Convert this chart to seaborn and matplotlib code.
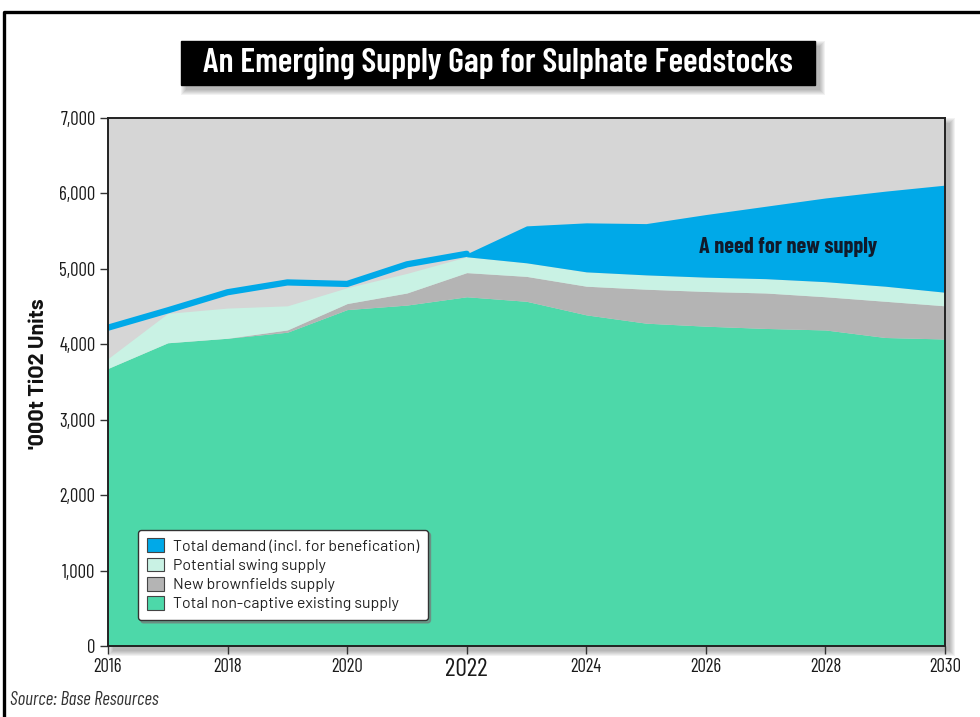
import matplotlib
matplotlib.use("Agg")
import matplotlib.pyplot as plt
import matplotlib.patches as mpatches
import matplotlib.lines as mlines
import seaborn as sns
import pandas as pd

# values ('000t TiO2 units)
years = list(range(2016, 2031))
existing = [3680, 4020, 4080, 4160, 4460, 4520, 4630, 4570, 4390, 4280, 4240, 4210, 4190, 4090, 4070]
brownfields = [0, 0, 0, 30, 80, 160, 320, 330, 380, 450, 460, 470, 440, 480, 440]
swing = [130, 390, 400, 320, 210, 260, 210, 180, 190, 190, 190, 190, 200, 200, 180]
demand = [4220, 4450, 4690, 4820, 4800, 5060, 5200, 5570, 5610, 5600, 5720, 5830, 5940, 6030, 6110]

labels = ["Total demand (incl. for benefication)", "Potential swing supply",
          "New brownfields supply", "Total non-captive existing supply"]
colors = ["#00a9e8", "#c9f2e4", "#b4b4b4", "#4dd8a9"]
xticks = [2016, 2018, 2020, 2022, 2024, 2026, 2028, 2030]
yticks = [0, 1000, 2000, 3000, 4000, 5000, 6000, 7000]

sns.set_theme(style="white")
cond = ["Barlow Condensed", "DejaVu Sans"]
plain = ["Barlow", "DejaVu Sans"]
plt.rcParams["font.family"] = cond

df = pd.DataFrame({"year": years, "existing": existing, "brownfields": brownfields,
                   "swing": swing, "demand": demand})
df["supply"] = df.existing + df.brownfields + df.swing

W, H = 980, 717
fig = plt.figure(figsize=(W / 100, H / 100), dpi=100)


def px_rect(x0, y0, x1, y1):
    # pixel box (top-left origin) -> figure fraction
    return [x0 / W, 1 - y1 / H, (x1 - x0) / W, (y1 - y0) / H]


def shadow(x0, y0, x1, y1, off=5, n=6):
    for i in range(n):
        l, b, w, h = px_rect(x0 + off - i, y0 + off - i, x1 + off + i, y1 + off + i)
        fig.patches.append(mpatches.Rectangle((l, b), w, h, transform=fig.transFigure,
                                              color="black", alpha=0.05, lw=0, zorder=-2))


# outer frame (left + top)
fig.lines.append(mlines.Line2D([4 / W, 4 / W, 1], [0, 1 - 12 / H, 1 - 12 / H],
                               transform=fig.transFigure, color="black", lw=2.4))

# title box
shadow(181, 41, 815, 85, off=5)
l, b, w, h = px_rect(181, 41, 815, 85)
fig.patches.append(mpatches.Rectangle((l, b), w, h, transform=fig.transFigure,
                                      color="black", zorder=-1))
fig.text(498 / W, 1 - 63 / H, "An Emerging Supply Gap for Sulphate Feedstocks",
         color="white", fontsize=24.5, fontweight="semibold", ha="center", va="center")

# axes
shadow(108, 118, 945, 646, off=5)
ax = fig.add_axes(px_rect(108, 118, 945, 646))
ax.set_facecolor("#d6d6d6")

ax.stackplot(df.year, df.existing, df.brownfields, df.swing,
             colors=[colors[3], colors[2], colors[1]], lw=0)
fc = df[df.year >= 2022]
ax.fill_between(fc.year, fc.supply, fc.demand, color=colors[0], lw=0)
sns.lineplot(data=df[df.year <= 2022], x="year", y="demand", color=colors[0],
             linewidth=4.5, ax=ax)

ax.text(2027.37, 5290, "A need for new supply", ha="center", va="center",
        fontsize=16, fontweight="bold", color="#101a2b")

ax.set_xlim(2016, 2030)
ax.set_ylim(0, 7000)
ax.set_xticks(xticks)
ax.set_xticklabels([str(x) for x in xticks])
ax.set_yticks(yticks)
ax.set_yticklabels([f"{v:,}" for v in yticks])
ax.tick_params(bottom=True, left=True, direction="out", length=6, width=1,
               color="#333333", labelsize=13.5, labelcolor="#1a1a1a", pad=3)
for t in ax.get_xticklabels():
    if t.get_text() == "2022":
        t.set_fontsize(18.5)
for s in ax.spines.values():
    s.set_color("#222222")
    s.set_linewidth(1.4)

ax.set_xlabel("")
ax.set_ylabel("'000t TiO2 Units", fontsize=15.5, fontweight="bold", family=plain, color="#111111")
ax.yaxis.set_label_coords(-0.072, 0.515)

handles = [mpatches.Patch(facecolor=c, edgecolor="#444444", lw=0.8) for c in colors]
leg = ax.legend(handles, labels, loc="lower left", bbox_to_anchor=(0.0358, 0.049),
                frameon=True, fancybox=True, shadow={"color": "#777777", "alpha": 0.6},
                prop={"family": plain, "size": 11.4}, handlelength=1.1, handleheight=0.95,
                borderpad=0.55, labelspacing=0.25, handletextpad=0.55, borderaxespad=0)
leg.get_frame().set_edgecolor("#333333")
leg.get_frame().set_facecolor("white")
leg.get_frame().set_alpha(1)
for t in leg.get_texts():
    t.set_color("#222222")

fig.text(10 / W, 1 - 700 / H, "Source: Base Resources", style="italic",
         fontsize=13.5, color="#333333", va="center")

fig.savefig("out.png", dpi=100)
